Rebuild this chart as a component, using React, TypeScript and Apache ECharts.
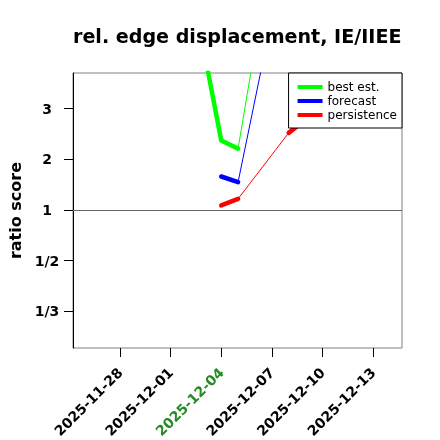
import React, { useEffect, useRef } from "react";
import * as echarts from "echarts";

// ---- data ----
const dates = ["2025-12-03", "2025-12-04", "2025-12-05", "2025-12-06", "2025-12-07", "2025-12-08", "2025-12-09"];
const bestEst: (number | null)[] = [4.1, 2.37, 2.21, null, null, 8.17, null];
const forecast: (number | null)[] = [null, 1.66, 1.55, null, null, 6.4, null];
const persistence: (number | null)[] = [null, 1.09, 1.22, null, null, 2.52, 2.78];

const tickDates = ["2025-11-28", "2025-12-01", "2025-12-04", "2025-12-07", "2025-12-10", "2025-12-13"];
const highlightDate = "2025-12-04";
const yTickRatios = [3, 2, 1, 1 / 2, 1 / 3];
const yTickLabels = ["3", "2", "1", "1/2", "1/3"];

const seriesNames = ["best est.", "forecast", "persistence"];
const seriesColors = ["#00ff00", "#0000ff", "#ff0000"];
const seriesValues = [bestEst, forecast, persistence];

// ---- helpers ----
const DAY = 86400000;
const ref = Date.UTC(2025, 10, 28);
const toDay = (s: string) => {
  const [y, m, d] = s.split("-").map(Number);
  return (Date.UTC(y, m - 1, d) - ref) / DAY;
};
const fromDay = (v: number) => {
  const dt = new Date(ref + Math.round(v) * DAY);
  const mm = String(dt.getUTCMonth() + 1).padStart(2, "0");
  const dd = String(dt.getUTCDate()).padStart(2, "0");
  return `${dt.getUTCFullYear()}-${mm}-${dd}`;
};
const tr = (r: number) => (r >= 1 ? r - 1 : 1 - 1 / r);

export default function App() {
  const divRef = useRef<HTMLDivElement>(null);
  useEffect(() => {
    if (!divRef.current) return;
    const chart = echarts.init(divRef.current, null, { renderer: "svg" });
    const font = "DejaVu Sans";
    const yTickVals = yTickRatios.map(tr);
    const xTickVals = tickDates.map(toDay);
    const hl = toDay(highlightDate);

    const series: any[] = [];
    seriesValues.forEach((vals, i) => {
      const pts = vals
        .map((v, j) => (v == null ? null : [toDay(dates[j]), tr(v)]))
        .filter((p) => p != null);
      // thin connector through all points
      series.push({
        type: "line",
        name: seriesNames[i] + " (thin)",
        data: pts,
        symbol: "none",
        lineStyle: { color: seriesColors[i], width: 1 },
        z: 2,
        silent: true,
      });
      // thick segments for consecutive days
      series.push({
        type: "line",
        name: seriesNames[i],
        data: vals.map((v, j) => [toDay(dates[j]), v == null ? "-" : tr(v)]),
        symbol: "none",
        connectNulls: false,
        lineStyle: { color: seriesColors[i], width: 4.5, cap: "round", join: "round" },
        itemStyle: { color: seriesColors[i] },
        z: 3,
      });
    });
    series.push({
      type: "line",
      name: "ref",
      data: [],
      markLine: {
        silent: true,
        symbol: "none",
        label: { show: false },
        lineStyle: { color: "#666666", width: 1, type: "solid" },
        data: [{ yAxis: 0 }],
      },
    });

    chart.setOption({
      animation: false,
      textStyle: { fontFamily: font },
      title: {
        text: "rel. edge displacement, IE/IIEE",
        left: 73,
        top: 27,
        padding: 0,
        textStyle: { fontSize: 19.1, fontWeight: "bold", color: "#000", fontFamily: font },
      },
      legend: {
        data: seriesNames,
        orient: "vertical",
        right: 38,
        top: 73,
        itemWidth: 25,
        itemHeight: 4,
        itemGap: 0,
        icon: "rect",
        padding: [7, 5, 6, 9],
        borderColor: "#000",
        borderWidth: 1,
        borderRadius: 0,
        backgroundColor: "#fff",
        textStyle: { fontSize: 12, color: "#000", fontFamily: font, lineHeight: 14 },
        z: 10,
      },
      grid: {
        left: 73,
        right: 38,
        top: 73,
        bottom: 92,
        show: true,
        borderColor: "#808080",
        borderWidth: 1,
        backgroundColor: "transparent",
        outerBoundsMode: "none",
        containLabel: false,
      },
      xAxis: {
        type: "value",
        min: -2.79,
        max: 16.72,
        splitLine: { show: false },
        axisLine: { show: false, onZero: false },
        axisTick: {
          show: true,
          length: 9,
          customValues: xTickVals,
          lineStyle: { color: "#000" },
        },
        axisLabel: {
          customValues: xTickVals,
          rotate: 45,
          margin: 22,
          fontSize: 14,
          fontWeight: "bold",
          fontFamily: font,
          formatter: (v: number) => fromDay(v),
          color: (v: any) => (Math.abs(Number(v) - hl) < 0.01 ? "#228B22" : "#000"),
        },
      },
      yAxis: {
        type: "value",
        min: -2.72,
        max: 2.7,
        name: "ratio score",
        nameLocation: "middle",
        nameGap: 49,
        nameTextStyle: { fontSize: 16, fontWeight: "bold", color: "#000", fontFamily: font },
        splitLine: { show: false },
        axisLine: { show: true, onZero: false, lineStyle: { color: "#000" } },
        axisTick: { show: true, length: 9, customValues: yTickVals, lineStyle: { color: "#000" } },
        axisLabel: {
          customValues: yTickVals,
          margin: 26,
          align: "center",
          fontSize: 14,
          fontWeight: "bold",
          color: "#000",
          fontFamily: font,
          formatter: (v: number) => {
            const idx = yTickVals.findIndex((t) => Math.abs(t - v) < 1e-6);
            return idx >= 0 ? yTickLabels[idx] : "";
          },
        },
      },
      series,
    });
    return () => chart.dispose();
  }, []);
  return <div ref={divRef} style={{ width: 440, height: 440, position: "fixed", left: 0, top: 0 }} />;
}
